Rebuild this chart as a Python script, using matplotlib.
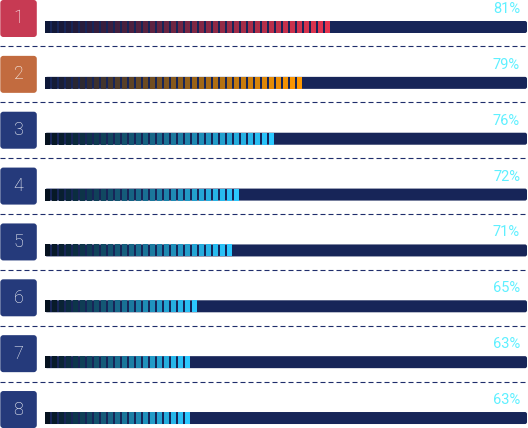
#imports
import numpy as np
import matplotlib
matplotlib.use('Agg')
import matplotlib.pyplot as plt
from matplotlib.patches import FancyBboxPatch
from matplotlib.colors import to_rgb

#data
ranks = ['1', '2', '3', '4', '5', '6', '7', '8']
pct_labels = ['81%', '79%', '76%', '72%', '71%', '65%', '63%', '63%']
#filled length of each bar, on a 0-100 scale of the bar track
bar_len = [59.5, 53.7, 47.9, 40.7, 39.2, 32.0, 30.5, 30.5]

#styles
badge_cols = ['#c73a53', '#c26b3f'] + ['#253a7b'] * 6
grad_start = ['#0e1838', '#0e1838'] + ['#06121f'] * 6
grad_end = ['#e5344f', '#ff9900'] + ['#2bc8ff'] * 6
track_col = '#172558'
sep_col = '#1f2d6b'
pct_col = '#5ff0ff'

#pixel layout (figure is 528 x 428 px)
W, H = 528, 428
px_x = 482 / 100.0        # px per bar unit
px_y = 55.86              # px per row
x0 = -45 / px_x
x1 = (W - 45) / px_x
y_top = -27 / px_y
y_bot = (H - 27) / px_y
aspect = px_x / px_y

fig = plt.figure(figsize=(W / 100, H / 100), dpi=100)
ax = fig.add_axes([0, 0, 1, 1])
ax.set_xlim(x0, x1)
ax.set_ylim(y_bot, y_top)
ax.axis('off')

seg_step = 7 / px_x
seg_w = 5 / px_x
bar_h = 12 / px_y

for k in range(len(ranks)):
    #badge
    bx = x0 + 0.3 / px_x
    bw = 36.5 / px_x
    by = k + y_top
    bh = 37 / px_y
    ax.add_patch(FancyBboxPatch((bx, by), bw, bh,
                                boxstyle='round,pad=0,rounding_size=%f' % (3 / px_x),
                                mutation_aspect=aspect, fc=badge_cols[k], ec='none'))
    ax.text(bx + bw / 2, by + bh / 2, ranks[k], color='white', fontsize=13,
            family='Roboto', fontweight='light', ha='center', va='center')

    #track
    ax.add_patch(FancyBboxPatch((0, k - bar_h / 2), 100, bar_h,
                                boxstyle='round,pad=0,rounding_size=%f' % (2 / px_x),
                                mutation_aspect=aspect, fc=track_col, ec='none'))

    #segmented gradient fill
    n = int(round(bar_len[k] / seg_step))
    c0 = np.array(to_rgb(grad_start[k]))
    c1 = np.array(to_rgb(grad_end[k]))
    t = np.linspace(0, 1, n)
    cols = [tuple(c0 + (c1 - c0) * v) for v in t]
    lefts = np.arange(n) * seg_step
    ax.barh([k] * n, [seg_w] * n, left=lefts, height=bar_h, color=cols, align='center')

    #percent label
    ax.text(475 / px_x, k - 0.25, pct_labels[k], color=pct_col, fontsize=10.5,
            family='Roboto', ha='right', va='baseline')

    #dashed separator
    if k < len(ranks) - 1:
        ax.plot([x0, x1], [k + 0.349, k + 0.349], color=sep_col, lw=0.8,
                ls=(0, (4.5, 2.7)))

fig.savefig('out.png', dpi=100)
